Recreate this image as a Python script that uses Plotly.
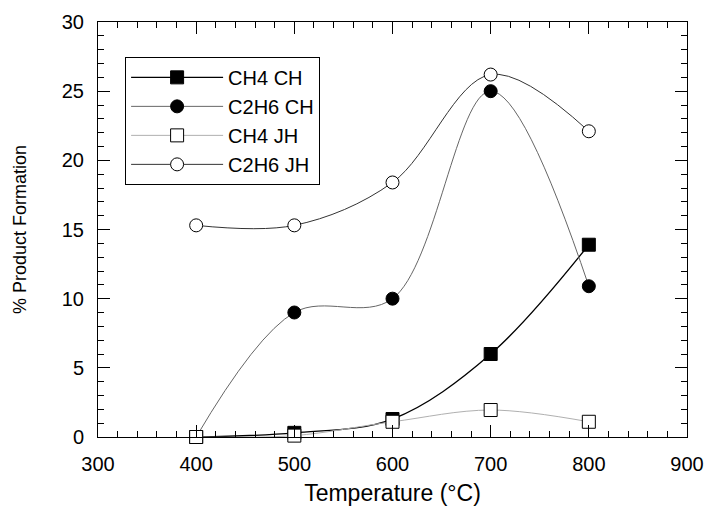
import plotly.graph_objects as go

# Reaction temperature (°C)
temperature = [400, 500, 600, 700, 800]

# Percent product formation per series
ch4_ch = [0.0, 0.3, 1.3, 6.0, 13.9]
c2h6_ch = [0.0, 9.0, 10.0, 25.0, 10.9]
ch4_jh = [0.0, 0.1, 1.1, 1.95, 1.1]
c2h6_jh = [15.3, 15.3, 18.4, 26.2, 22.1]

series = [
    ("CH4 CH", ch4_ch, "square", "black", "black", 1.3),
    ("C2H6 CH", c2h6_ch, "circle", "black", "#666666", 1.0),
    ("CH4 JH", ch4_jh, "square", "white", "#b0b0b0", 1.0),
    ("C2H6 JH", c2h6_jh, "circle", "white", "#333333", 1.0),
]

fig = go.Figure()
for name, vals, symbol, fill, line_color, lw in series:
    fig.add_trace(go.Scatter(
        x=temperature, y=vals, name=name, mode="lines+markers",
        line=dict(color=line_color, width=lw, shape="spline", smoothing=1.0),
        marker=dict(symbol=symbol, size=13, color=fill,
                    line=dict(color="black", width=1)),
        cliponaxis=False,
    ))

font = "Liberation Sans, Arial, Helvetica, sans-serif"
axis_common = dict(
    showline=True, linecolor="black", linewidth=1, mirror="allticks",
    ticks="inside", ticklen=12, tickcolor="black", tickwidth=1,
    showgrid=False, zeroline=False, automargin=False,
    tickfont=dict(family=font, size=20, color="black"),
)

fig.update_layout(
    width=709, height=506,
    margin=dict(l=98, r=22, t=22, b=69),
    paper_bgcolor="white", plot_bgcolor="white",
    font=dict(family=font, color="black"),
    xaxis=dict(
        range=[300, 900], dtick=100, tick0=300,
        minor=dict(dtick=20, ticks="inside", ticklen=6, tickcolor="black", showgrid=False),
        title=dict(text="Temperature (°C)", font=dict(size=23), standoff=10),
        ticklabelstandoff=9,
        **axis_common,
    ),
    yaxis=dict(
        range=[0, 30], dtick=5, tick0=0,
        minor=dict(dtick=1, ticks="inside", ticklen=6, tickcolor="black", showgrid=False),
        title=dict(text="% Product Formation", font=dict(size=18), standoff=30),
        ticklabelstandoff=9,
        **axis_common,
    ),
    legend=dict(
        x=0.046, y=0.916, xanchor="left", yanchor="top",
        bgcolor="white", bordercolor="black", borderwidth=1,
        font=dict(family=font, size=20, color="black"),
        tracegroupgap=0, itemwidth=92,
    ),
    showlegend=True,
)

fig.write_html("out.html")
